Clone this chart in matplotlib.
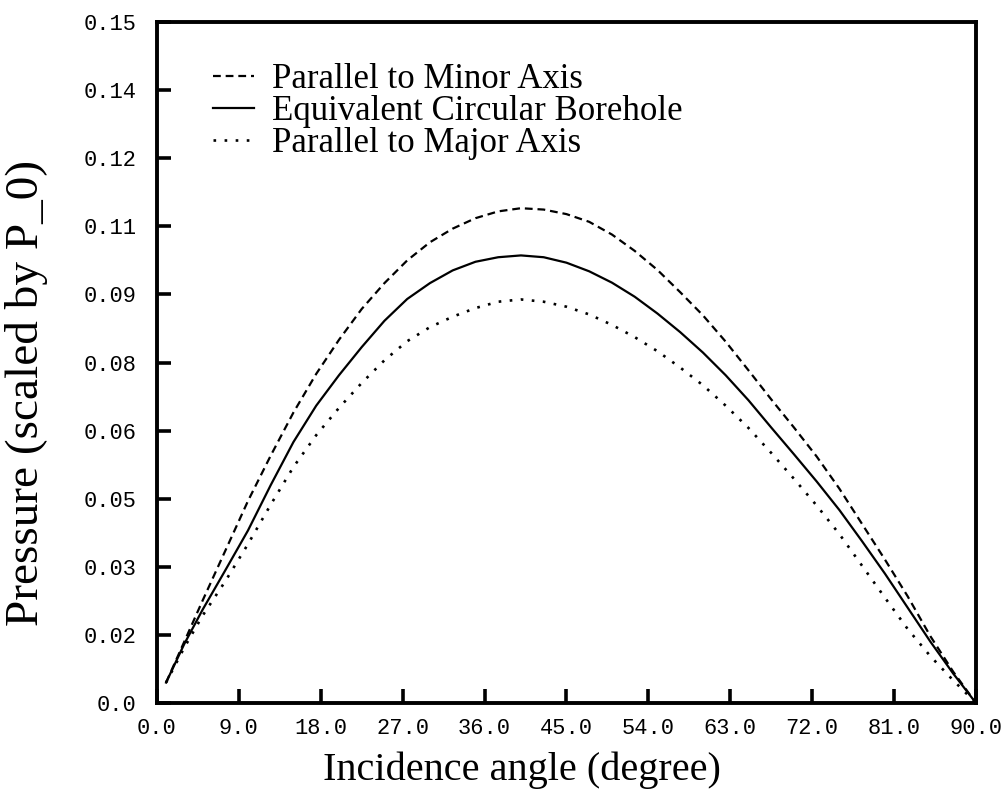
import numpy as np
import matplotlib
matplotlib.use("Agg")
import matplotlib.pyplot as plt


# incidence angle in degrees
angles = [1, 3, 5, 7.5, 10, 12.5, 15, 17.5, 20, 22.5, 25, 27.5, 30, 32.5, 35,
          37.5, 40, 42.5, 45, 47.5, 50, 52.5, 55, 57.5, 60, 62.5, 65, 67.5,
          70, 72.5, 75, 77.5, 80, 82.5, 85, 87.5, 90]

minor_axis = [0.0045, 0.0135, 0.0225, 0.0335, 0.0445, 0.0545, 0.0640, 0.0725,
              0.0800, 0.0868, 0.0925, 0.0975, 0.1015, 0.1045, 0.1068, 0.1083,
              0.1090, 0.1087, 0.1077, 0.1060, 0.1032, 0.0996, 0.0954, 0.0905,
              0.0854, 0.0796, 0.0733, 0.0669, 0.0607, 0.0543, 0.0472, 0.0394,
              0.0316, 0.0235, 0.0147, 0.0069, 0.0]

circular = [0.0045, 0.0130, 0.0205, 0.0292, 0.0380, 0.0480, 0.0575, 0.0655,
            0.0722, 0.0784, 0.0842, 0.0890, 0.0925, 0.0953, 0.0972, 0.0982,
            0.0986, 0.0982, 0.0970, 0.0951, 0.0926, 0.0895, 0.0858, 0.0817,
            0.0772, 0.0722, 0.0667, 0.0607, 0.0548, 0.0488, 0.0425, 0.0356,
            0.0285, 0.0210, 0.0135, 0.0065, 0.0]

major_axis = [0.0045, 0.0122, 0.0192, 0.0268, 0.0350, 0.0437, 0.0520, 0.0590,
              0.0650, 0.0705, 0.0755, 0.0797, 0.0828, 0.0851, 0.0870, 0.0884,
              0.0889, 0.0884, 0.0873, 0.0856, 0.0833, 0.0806, 0.0775, 0.0739,
              0.0700, 0.0655, 0.0606, 0.0551, 0.0494, 0.0435, 0.0372, 0.0302,
              0.0232, 0.0163, 0.0103, 0.0050, 0.0]

x_ticks = [0, 9, 18, 27, 36, 45, 54, 63, 72, 81, 90]
x_tick_labels = ["0.0", "9.0", "18.0", "27.0", "36.0", "45.0", "54.0",
                 "63.0", "72.0", "81.0", "90.0"]
y_ticks = [0, 0.015, 0.03, 0.045, 0.06, 0.075, 0.09, 0.105, 0.12, 0.135, 0.15]
y_tick_labels = ["0.0", "0.02", "0.03", "0.05", "0.06", "0.08", "0.09",
                 "0.11", "0.12", "0.14", "0.15"]

series_labels = ["Parallel to Minor Axis", "Equivalent Circular Borehole",
                 "Parallel to Major Axis"]


def plot_pressure():
  fig = plt.figure(figsize=(10.03, 7.89), dpi=100)
  ax = fig.add_axes([0.1565, 0.109, 0.8165, 0.863])

  ax.plot(angles, minor_axis, color="black", lw=1.6,
          linestyle=(0, (3.5, 2.2)), label=series_labels[0])
  ax.plot(angles, circular, color="black", lw=1.6,
          linestyle="-", label=series_labels[1])
  ax.plot(angles, major_axis, color="black", lw=1.9,
          linestyle=(0, (1, 3.2)), label=series_labels[2])

  ax.set_xlim(0, 90)
  ax.set_ylim(0, 0.15)

  ax.set_xticks(x_ticks)
  ax.set_xticklabels(x_tick_labels, family="Liberation Mono", fontsize=15.8)
  ax.set_yticks(y_ticks)
  ax.set_yticklabels(y_tick_labels, family="Liberation Mono", fontsize=15.8)
  ax.tick_params(axis="both", direction="in", length=10, width=2.6,
                 top=False, right=False)
  ax.tick_params(axis="x", pad=11)
  ax.tick_params(axis="y", pad=15)
  for side in ax.spines.values():
    side.set_linewidth(2.8)

  ax.set_xlabel("Incidence angle (degree)", family="Liberation Serif",
                fontsize=29)
  ax.xaxis.set_label_coords(0.446, -0.071)
  ax.set_ylabel("Pressure (scaled by P_0)", family="Liberation Serif",
                fontsize=34)
  ax.yaxis.set_label_coords(-0.133, 0.455)

  ax.legend(loc="upper left", bbox_to_anchor=(0.068, 0.94), frameon=False,
            prop={"family": "Liberation Serif", "size": 25},
            handlelength=1.2, handletextpad=0.5, labelspacing=-0.03,
            borderaxespad=0, borderpad=0)

  fig.savefig("out.png", dpi=100)


plot_pressure()
